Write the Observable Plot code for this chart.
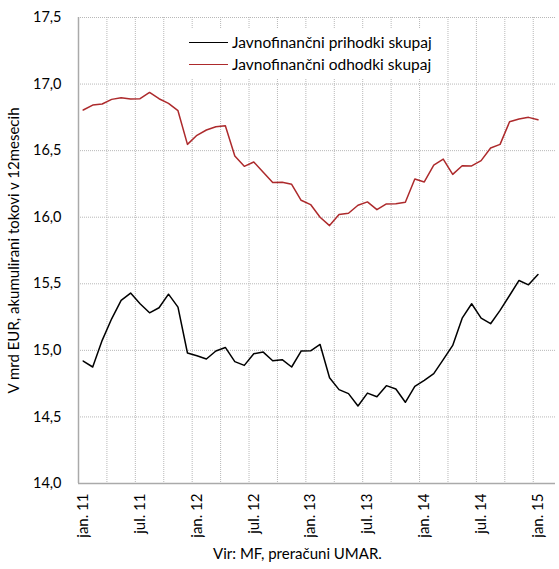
<!DOCTYPE html>
<html><head><meta charset="utf-8">
<script src="https://cdn.jsdelivr.net/npm/d3@7"></script>
<script src="https://cdn.jsdelivr.net/npm/@observablehq/plot@0.6"></script>
<style>
body{margin:0;background:#fff;font-family:Lato,"Noto Sans",sans-serif;}
#wrap{position:relative;width:559px;}
#legend{position:absolute;left:183px;top:29px;background:#fff;padding:2px 8px 3px 6px;font-size:15.5px;line-height:22px;color:#000;}
.row{display:flex;align-items:center;white-space:nowrap;}
.sw{width:39px;height:0;border-top:1.5px solid;margin-right:4px;}
#cap{text-align:center;font-size:15px;line-height:32px;height:32px;color:#000;padding-left:36px;}
</style>
</head><body>
<div id="wrap">
<div id="chart"></div>
<div id="legend"></div>
<div id="cap"></div>
</div>
<script>
// Tick labels (every 6 months, starting jan 2011)
const tickLabels = ["jan. 11","jul. 11","jan. 12","jul. 12","jan. 13","jul. 13","jan. 14","jul. 14","jan. 15"];
const yTicks = [14.0, 14.5, 15.0, 15.5, 16.0, 16.5, 17.0, 17.5];
const seriesNames = ["Javnofinančni prihodki skupaj", "Javnofinančni odhodki skupaj"];
const seriesColors = ["#000000", "#ad2a2c"];
const yLabel = "V mrd EUR, akumulirani tokovi v 12mesecih";
const caption = "Vir: MF, preračuni UMAR.";

// Monthly values, jan 2011 .. jan 2015 (49 months)
const prihodki = [
  14.92, 14.875, 15.075, 15.237, 15.375, 15.43, 15.35, 15.282, 15.32, 15.422, 15.325, 14.98,
  14.96, 14.935, 14.995, 15.022, 14.915, 14.887, 14.975, 14.987, 14.922, 14.93, 14.875, 14.995,
  14.997, 15.044, 14.794, 14.705, 14.675, 14.582, 14.679, 14.652, 14.735, 14.71, 14.61, 14.73,
  14.775, 14.825, 14.93, 15.037, 15.242, 15.35, 15.242, 15.2, 15.3, 15.412, 15.525, 15.492,
  15.57
];
const odhodki = [
  16.805, 16.842, 16.85, 16.885, 16.897, 16.887, 16.89, 16.937, 16.89, 16.855, 16.80, 16.547,
  16.615, 16.655, 16.68, 16.687, 16.46, 16.382, 16.415, 16.337, 16.26, 16.262, 16.247, 16.127,
  16.095, 16.0, 15.937, 16.02, 16.03, 16.09, 16.115, 16.057, 16.1, 16.102, 16.112, 16.287,
  16.265, 16.392, 16.437, 16.322, 16.387, 16.385, 16.425, 16.52, 16.547, 16.717, 16.737, 16.75,
  16.732
];

const rows = [];
[prihodki, odhodki].forEach((arr, s) => arr.forEach((v, i) => rows.push({i, v, s: seriesNames[s]})));
const tickIdx = tickLabels.map((_, k) => k * 6);
const xGrid = d3.range(2.5, prihodki.length, 3);
const yGrid = yTicks.slice(1);
const grid = "#b8b8b8";

const chart = Plot.plot({
  width: 559, height: 537,
  marginLeft: 78, marginRight: 4, marginTop: 17, marginBottom: 54,
  style: {fontFamily: "Lato, 'Noto Sans', sans-serif", fontSize: "14px", color: "#000", background: "#fff"},
  x: {domain: [-0.5, 49.85]},
  y: {domain: [14, 17.5]},
  color: {domain: seriesNames, range: seriesColors},
  marks: [
    Plot.ruleY(yGrid, {stroke: grid, strokeDasharray: "1,1"}),
    Plot.ruleX(xGrid, {stroke: grid, strokeDasharray: "1,1"}),
    Plot.ruleY([14], {stroke: "#aaa", strokeWidth: 1.5}),
    Plot.ruleX([-0.5], {stroke: "#aaa", strokeWidth: 1.5}),
    Plot.axisY({ticks: yTicks, tickSize: 0, tickPadding: 17, tickFormat: d => d.toFixed(1).replace(".", ","), label: null, fontSize: 14.5}),
    Plot.axisX({ticks: tickIdx, tickSize: 0, tickPadding: 10, tickRotate: -90, tickFormat: d => tickLabels[d / 6], label: null, fontSize: 15}),
    Plot.line(rows, {x: "i", y: "v", z: "s", stroke: "s", strokeWidth: 1.5}),
    Plot.text([yLabel], {frameAnchor: "left", textAnchor: "middle", dx: -64, rotate: -90, fontSize: 15})
  ]
});
document.getElementById("chart").appendChild(chart);

const leg = document.getElementById("legend");
seriesNames.forEach((n, k) => {
  const r = document.createElement("div"); r.className = "row";
  const sw = document.createElement("span"); sw.className = "sw"; sw.style.borderTopColor = seriesColors[k];
  const t = document.createElement("span"); t.textContent = n;
  r.appendChild(sw); r.appendChild(t); leg.appendChild(r);
});
document.getElementById("cap").textContent = caption;
</script>
</body></html>
